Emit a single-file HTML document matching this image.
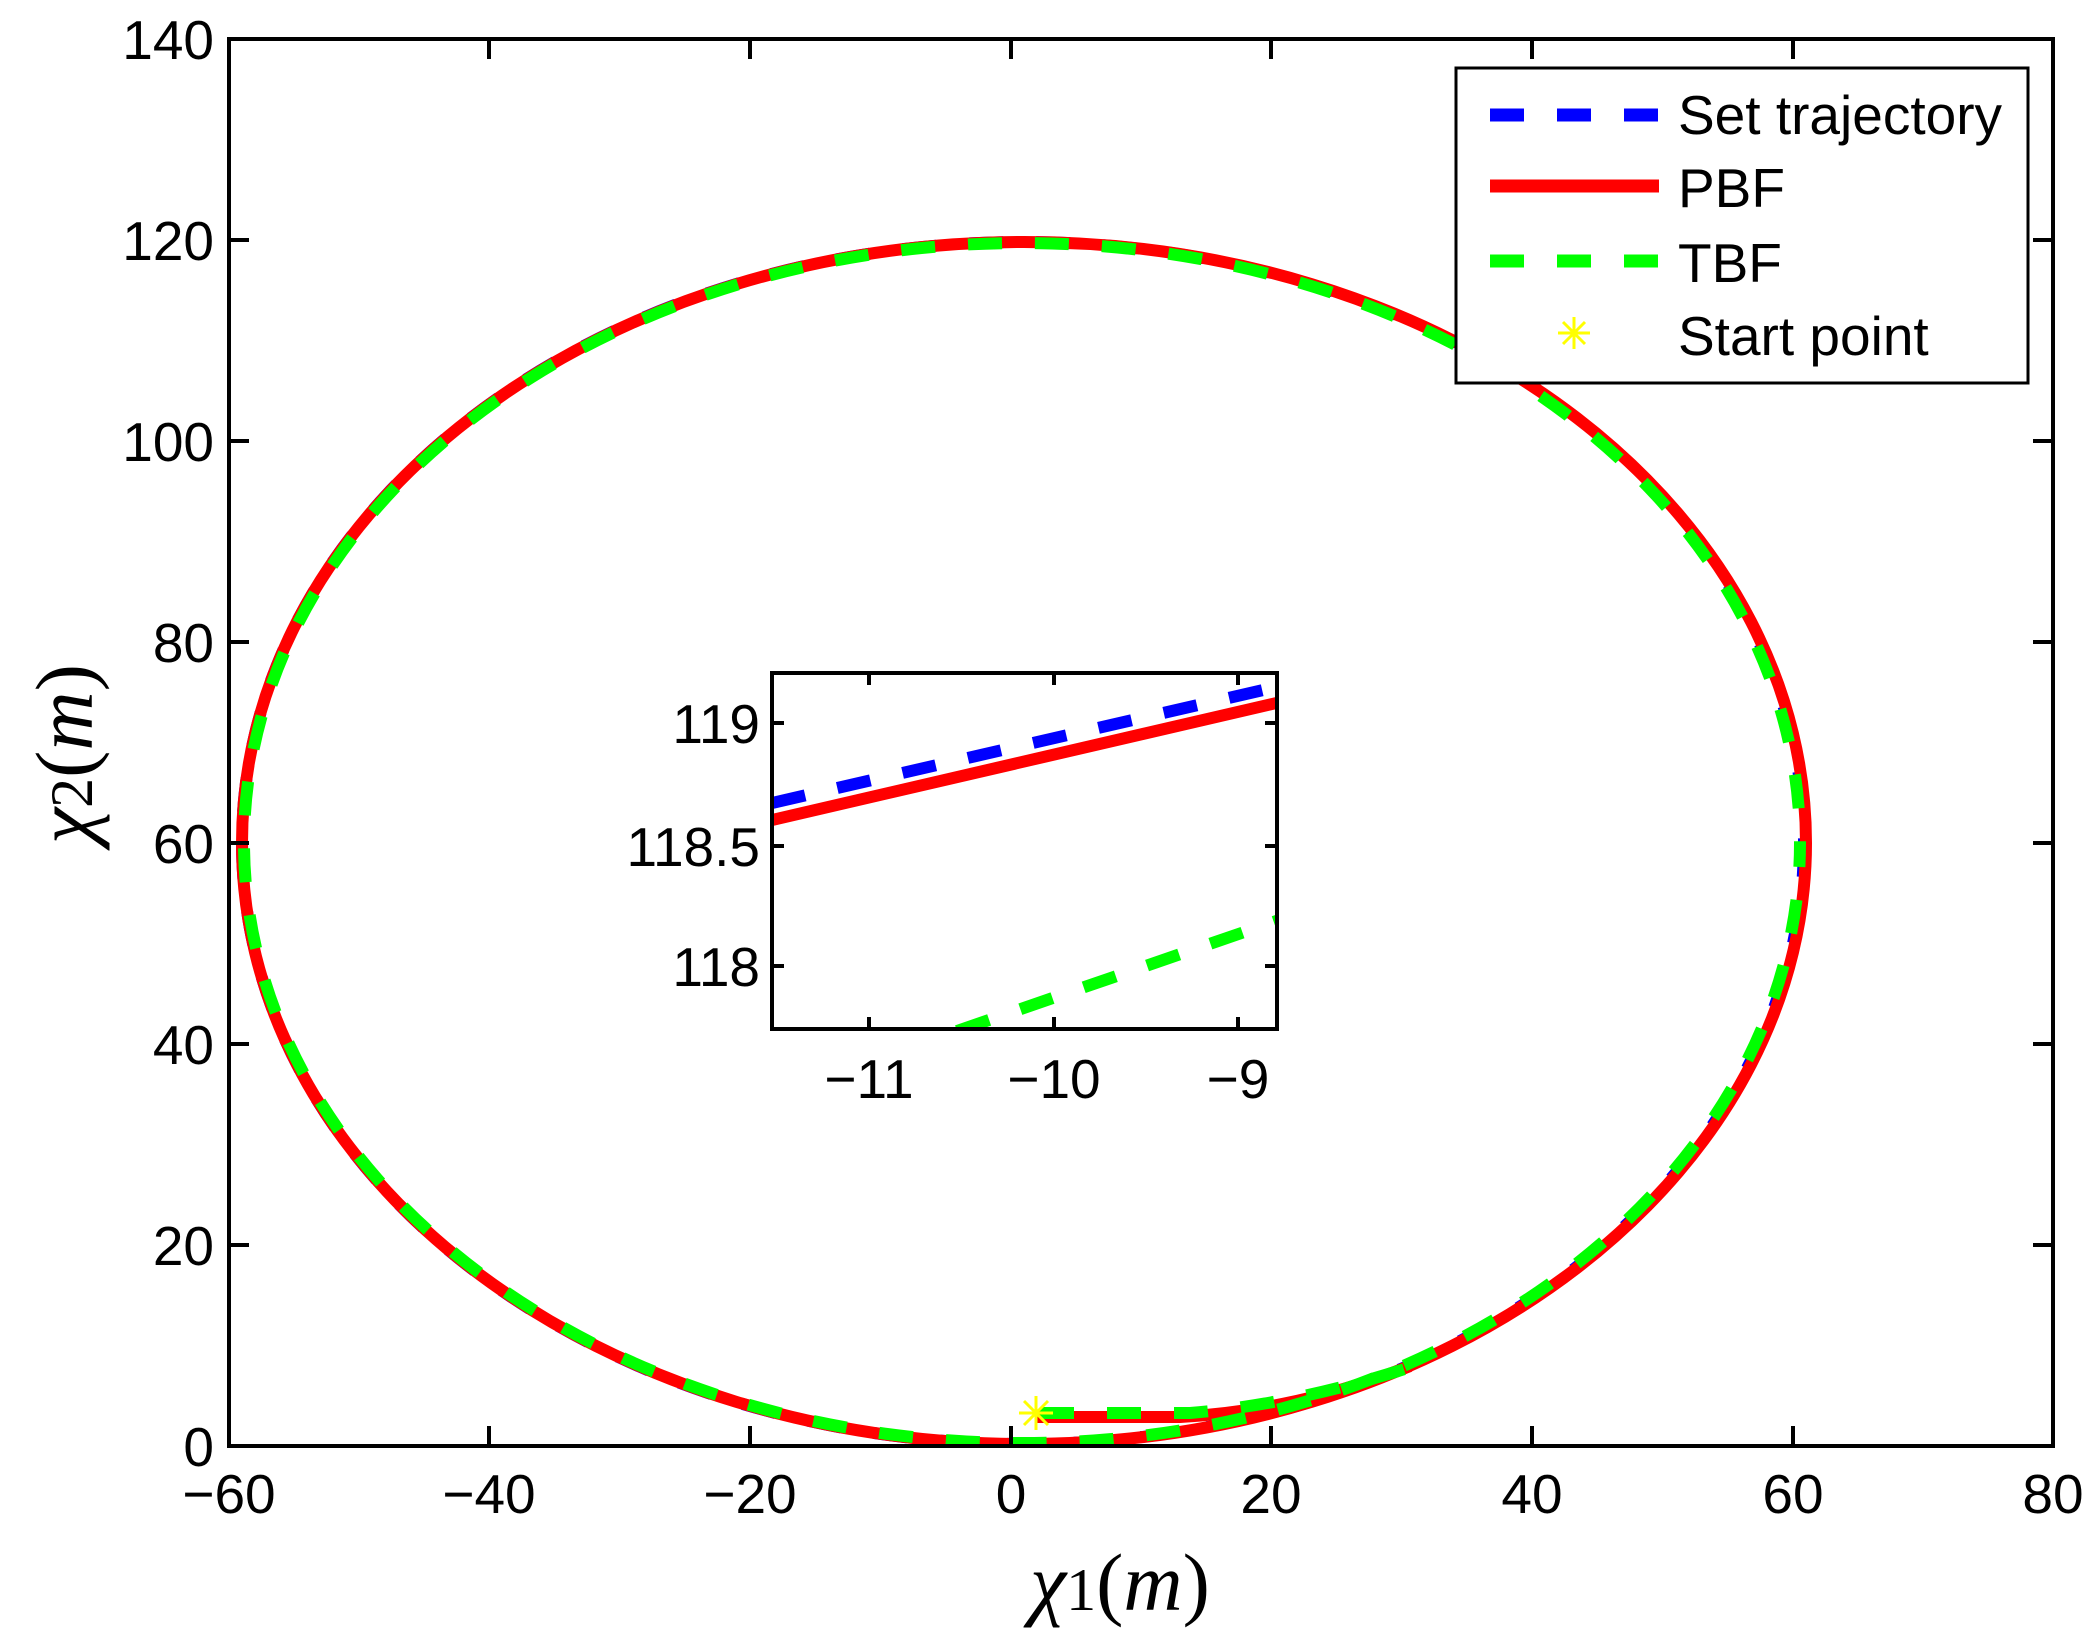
<!DOCTYPE html>
<html><head><meta charset="utf-8"><style>
html,body{margin:0;padding:0;background:#fff}
svg{display:block}
text{font-family:"Liberation Sans",sans-serif;font-size:55px;fill:#000}
.m{font-family:"Liberation Serif",serif;font-style:italic;font-size:82px}
</style></head><body>
<svg width="2100" height="1649" viewBox="0 0 2100 1649" xmlns="http://www.w3.org/2000/svg">
<rect width="2100" height="1649" fill="#fff"/>
<defs><clipPath id="mc"><rect x="229" y="39" width="1824" height="1407"/></clipPath>
<clipPath id="ic"><rect x="772" y="673" width="505" height="356"/></clipPath></defs>
<g clip-path="url(#mc)" fill="none" stroke-width="12">
<ellipse cx="1023" cy="843" rx="781" ry="601" stroke="#0000ff" stroke-dasharray="34 33"/>
<ellipse cx="1024" cy="843" rx="782" ry="601" stroke="#ff0000"/>
<path d="M1036,1417 L1180,1417 Q1300,1410 1410,1366" stroke="#ff0000"/>
<ellipse cx="1022" cy="843" rx="778" ry="600" stroke="#00ff00" stroke-dasharray="34 33" stroke-dashoffset="10"/>
<path d="M1040,1413 L1190,1413 Q1300,1404 1420,1364" stroke="#00ff00" stroke-dasharray="34 33"/>
</g>
<g stroke="#ffff00" stroke-width="3">
<line x1="1036" y1="1396" x2="1036" y2="1430"/><line x1="1019" y1="1413" x2="1053" y2="1413"/>
<line x1="1024" y1="1401" x2="1048" y2="1425"/><line x1="1024" y1="1425" x2="1048" y2="1401"/>
</g>
<g stroke="#000" stroke-width="4" fill="none">
<rect x="229" y="39" width="1824" height="1407"/>
<path d="M489,1446v-20M750,1446v-20M1011,1446v-20M1271,1446v-20M1532,1446v-20M1793,1446v-20M489,39v20M750,39v20M1011,39v20M1271,39v20M1532,39v20M1793,39v20"/>
<path d="M229,1245h20M229,1044h20M229,843h20M229,642h20M229,441h20M229,240h20M2053,1245h-20M2053,1044h-20M2053,843h-20M2053,642h-20M2053,441h-20M2053,240h-20"/>
</g>
<g text-anchor="middle">
<text x="229" y="1513">−60</text><text x="489" y="1513">−40</text><text x="750" y="1513">−20</text><text x="1011" y="1513">0</text><text x="1271" y="1513">20</text><text x="1532" y="1513">40</text><text x="1793" y="1513">60</text><text x="2053" y="1513">80</text>
</g>
<g text-anchor="end">
<text x="214" y="1466">0</text><text x="214" y="1265">20</text><text x="214" y="1064">40</text><text x="214" y="863">60</text><text x="214" y="662">80</text><text x="214" y="461">100</text><text x="214" y="260">120</text><text x="214" y="59">140</text>
</g>
<text class="m" x="1030" y="1610">χ<tspan font-style="normal" font-size="60">1</tspan><tspan font-style="normal">(</tspan>m<tspan font-style="normal">)</tspan></text>
<text class="m" transform="translate(92,754) rotate(-90)" text-anchor="middle">χ<tspan font-style="normal" font-size="60">2</tspan><tspan font-style="normal">(</tspan>m<tspan font-style="normal">)</tspan></text>
<rect x="772" y="673" width="505" height="356" fill="#fff"/>
<g clip-path="url(#ic)" fill="none" stroke-width="12">
<line x1="772" y1="803" x2="1285" y2="685" stroke="#0000ff" stroke-dasharray="34 33"/>
<line x1="772" y1="820" x2="1285" y2="701" stroke="#ff0000"/>
<line x1="957" y1="1031" x2="1285" y2="918" stroke="#00ff00" stroke-dasharray="34 33"/>
</g>
<g stroke="#000" stroke-width="4" fill="none">
<rect x="772" y="673" width="505" height="356"/>
<path d="M869,1029v-12M1054,1029v-12M1238,1029v-12M869,673v12M1054,673v12M1238,673v12M772,723h12M772,846h12M772,966h12M1277,723h-12M1277,846h-12M1277,966h-12"/>
</g>
<g text-anchor="end"><text x="760" y="743">119</text><text x="760" y="866">118.5</text><text x="760" y="986">118</text></g>
<g text-anchor="middle"><text x="869" y="1098">−11</text><text x="1054" y="1098">−10</text><text x="1238" y="1098">−9</text></g>
<rect x="1456" y="68" width="572" height="315" fill="#fff" stroke="#000" stroke-width="3"/>
<line x1="1490" y1="115" x2="1659" y2="115" stroke="#0000ff" stroke-width="13" stroke-dasharray="34 33"/>
<line x1="1490" y1="186" x2="1659" y2="186" stroke="#ff0000" stroke-width="13"/>
<line x1="1490" y1="261" x2="1659" y2="261" stroke="#00ff00" stroke-width="13" stroke-dasharray="34 33"/>
<g stroke="#ffff00" stroke-width="3">
<line x1="1574" y1="317" x2="1574" y2="349"/><line x1="1558" y1="333" x2="1590" y2="333"/>
<line x1="1563" y1="322" x2="1585" y2="344"/><line x1="1563" y1="344" x2="1585" y2="322"/>
</g>
<text x="1678" y="134">Set trajectory</text>
<text x="1678" y="207">PBF</text>
<text x="1678" y="282">TBF</text>
<text x="1678" y="355">Start point</text>
</svg>
</body></html>
